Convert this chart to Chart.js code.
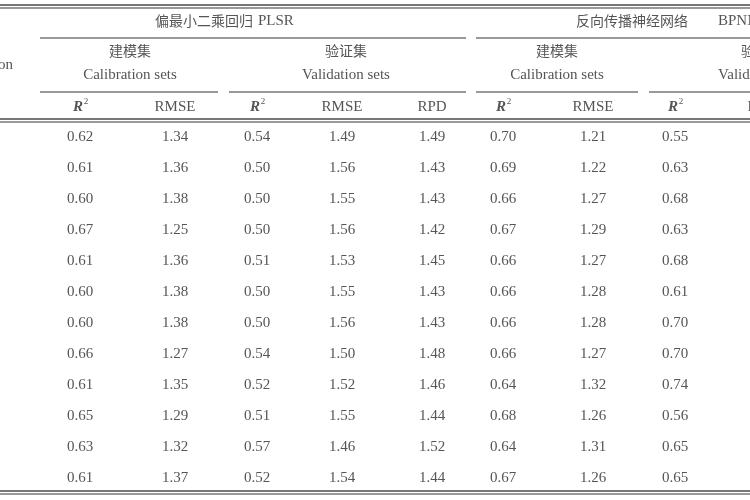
<!DOCTYPE html>
<html>
<head>
<meta charset="utf-8">
<script src="https://cdn.jsdelivr.net/npm/chart.js@4/dist/chart.umd.min.js"></script>
<style>
  html, body { margin: 0; padding: 0; background: #fff; }
  #wrap { width: 750px; height: 500px; }
</style>
</head>
<body>
<div id="wrap"><canvas id="table"></canvas></div>
<script>
// column headers
var columns = ["R2", "RMSE", "R2", "RMSE", "RPD", "R2", "RMSE", "R2", "RMSE"];
// rows of values (PLSR cal R2, RMSE, PLSR val R2, RMSE, RPD, BP cal R2, RMSE, BP val R2, RMSE)
var plsrCalR2   = [0.62, 0.61, 0.60, 0.67, 0.61, 0.60, 0.60, 0.66, 0.61, 0.65, 0.63, 0.61];
var plsrCalRmse = [1.34, 1.36, 1.38, 1.25, 1.36, 1.38, 1.38, 1.27, 1.35, 1.29, 1.32, 1.37];
var plsrValR2   = [0.54, 0.50, 0.50, 0.50, 0.51, 0.50, 0.50, 0.54, 0.52, 0.51, 0.57, 0.52];
var plsrValRmse = [1.49, 1.56, 1.55, 1.56, 1.53, 1.55, 1.56, 1.50, 1.52, 1.55, 1.46, 1.54];
var plsrValRpd  = [1.49, 1.43, 1.43, 1.42, 1.45, 1.43, 1.43, 1.48, 1.46, 1.44, 1.52, 1.44];
var bpCalR2     = [0.70, 0.69, 0.66, 0.67, 0.66, 0.66, 0.66, 0.66, 0.64, 0.68, 0.64, 0.67];
var bpCalRmse   = [1.21, 1.22, 1.27, 1.29, 1.27, 1.28, 1.28, 1.27, 1.32, 1.26, 1.31, 1.26];
var bpValR2     = [0.55, 0.63, 0.68, 0.63, 0.68, 0.61, 0.70, 0.70, 0.74, 0.56, 0.65, 0.65];
var bpValRmse   = [1.45, 1.38, 1.30, 1.38, 1.30, 1.40, 1.27, 1.27, 1.20, 1.44, 1.35, 1.35];

var series = [plsrCalR2, plsrCalRmse, plsrValR2, plsrValRmse, plsrValRpd,
              bpCalR2, bpCalRmse, bpValR2, bpValRmse];

// layout (pixel positions on a 750x500 linear grid)
var colX = [80, 175, 257, 342, 432, 503, 593, 675, 768];
var rowY = [137, 168, 199, 230, 261, 292, 323, 354, 385, 416, 447, 478];

var points = [];
series.forEach(function(vals, c) {
  vals.forEach(function(v, r) {
    points.push({ x: colX[c], y: rowY[r], label: v.toFixed(2) });
  });
});

var serif = '"Liberation Serif", "DejaVu Serif", serif';
var cjk = '"Noto Sans CJK SC", serif';
var ink = '#555';

var tablePlugin = {
  id: 'tableText',
  afterDatasetsDraw: function(chart) {
    var ctx = chart.ctx, xs = chart.scales.x, ys = chart.scales.y;
    function X(v) { return xs.getPixelForValue(v); }
    function Y(v) { return ys.getPixelForValue(v); }
    function text(t, x, y, font, align) {
      ctx.font = font;
      ctx.textAlign = align || 'center';
      ctx.textBaseline = 'middle';
      ctx.fillStyle = ink;
      ctx.fillText(t, X(x), Y(y));
    }
    function hline(x1, x2, y, w) {
      ctx.strokeStyle = '#777';
      ctx.lineWidth = w || 1.5;
      ctx.beginPath();
      ctx.moveTo(X(x1), Y(y));
      ctx.lineTo(X(x2), Y(y));
      ctx.stroke();
    }
    ctx.save();
    // rules
    hline(0, 750, 5, 2); hline(0, 750, 8, 1.5);
    hline(40, 466, 38); hline(476, 750, 38);
    hline(40, 218, 92); hline(229, 466, 92); hline(476, 638, 92); hline(649, 750, 92);
    hline(0, 750, 119, 2); hline(0, 750, 122, 1.5);
    hline(0, 750, 491, 2); hline(0, 750, 494, 1.5);
    // headers
    text('偏最小二乘回归', 204, 21, '14px ' + cjk);
    text('PLSR', 258, 21, '15px ' + serif, 'left');
    text('反向传播神经网络', 632, 21, '14px ' + cjk);
    text('BPNN', 718, 21, '15px ' + serif, 'left');
    text('建模集', 130, 51, '14px ' + cjk);
    text('Calibration sets', 130, 75, '15px ' + serif);
    text('验证集', 346, 51, '14px ' + cjk);
    text('Validation sets', 346, 75, '15px ' + serif);
    text('建模集', 557, 51, '14px ' + cjk);
    text('Calibration sets', 557, 75, '15px ' + serif);
    text('验证集', 762, 51, '14px ' + cjk);
    text('Validation sets', 762, 75, '15px ' + serif);
    text('Condition', 13, 65, '15px ' + serif, 'right');
    columns.forEach(function(c, i) {
      if (c === 'R2') {
        text('R', colX[i] - 2, 107, 'italic bold 15px ' + serif);
        text('2', colX[i] + 6, 102, '9px ' + serif);
      } else {
        text(c, colX[i], 107, '15px ' + serif);
      }
    });
    // cells
    points.forEach(function(p) { text(p.label, p.x, p.y, '15px ' + serif); });
    ctx.restore();
  }
};

new Chart(document.getElementById('table'), {
  type: 'scatter',
  data: { datasets: [{ data: points, pointRadius: 0, pointHoverRadius: 0 }] },
  options: {
    responsive: true,
    maintainAspectRatio: false,
    animation: false,
    layout: { padding: 0 },
    plugins: { legend: { display: false }, tooltip: { enabled: false } },
    scales: {
      x: { type: 'linear', min: 0, max: 750, display: false },
      y: { type: 'linear', min: 0, max: 500, reverse: true, display: false }
    }
  },
  plugins: [tablePlugin]
});
</script>
</body>
</html>
